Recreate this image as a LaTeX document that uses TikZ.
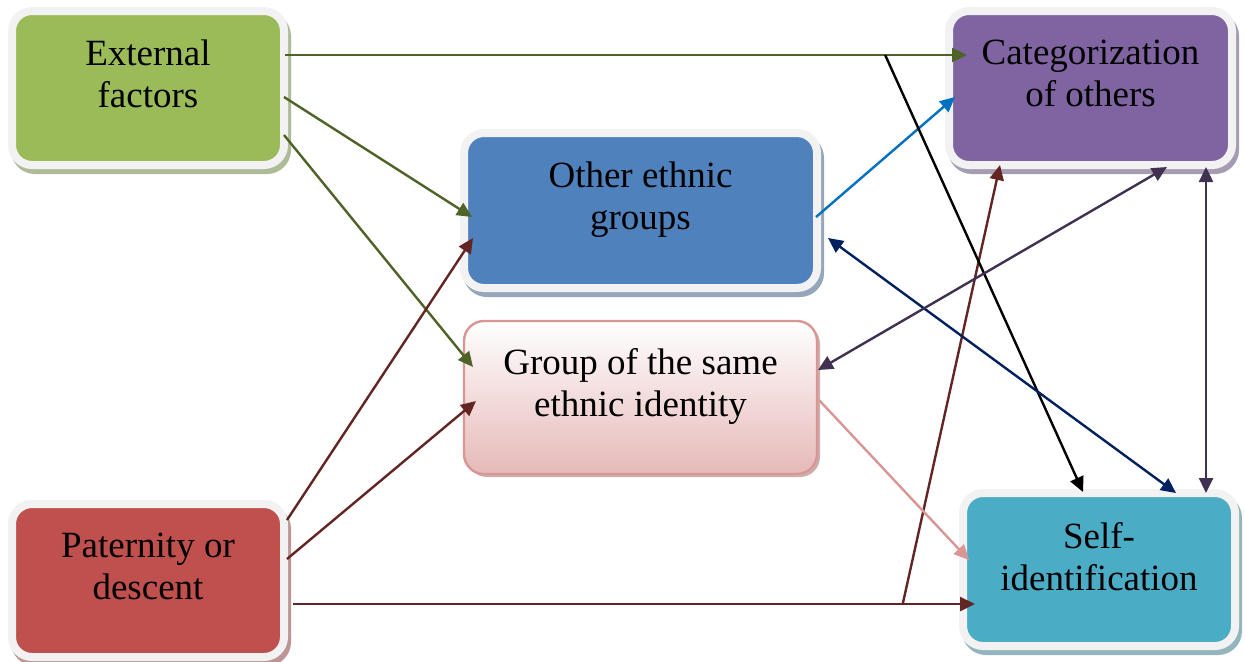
\documentclass[tikz,border=0pt]{standalone}
\usepackage{fontspec}
\setmainfont{Liberation Serif}
\usetikzlibrary{calc,shadows,arrows.meta}
\definecolor{myolive}{RGB}{79,98,40}
\definecolor{mymaroon}{RGB}{99,37,35}
\definecolor{myazure}{RGB}{0,112,192}
\definecolor{mynavy}{RGB}{0,32,96}
\definecolor{myplum}{RGB}{64,49,82}
\definecolor{myrose}{RGB}{217,150,148}
\definecolor{myrosefill}{RGB}{230,185,184}
\definecolor{mygreen}{RGB}{155,187,89}
\definecolor{myblue}{RGB}{79,129,189}
\definecolor{mypurple}{RGB}{128,100,162}
\definecolor{myred}{RGB}{192,80,77}
\definecolor{myteal}{RGB}{75,172,198}
\definecolor{myframe}{RGB}{242,242,242}
\tikzset{every picture/.style={line width=1.2pt}}
\tikzset{
  frm/.style={rounded corners=10pt, fill=#1, draw=myframe, line width=4pt, inner sep=0pt, outer sep=0pt,
    drop shadow={shadow xshift=1.5pt, shadow yshift=-2.5pt, opacity=1, line width=4pt, fill=#1!50!gray!70, draw=#1!50!gray!70}},
  lbl/.style={anchor=north, inner sep=0pt, align=center, font=\fontsize{18.5pt}{21pt}\selectfont},
  arr/.style={draw=#1, -{Triangle[length=7.5pt,width=7pt]}},
  darr/.style={draw=#1, {Triangle[length=7.5pt,width=7pt]}-{Triangle[length=7.5pt,width=7pt]}}
}

\begin{document}
\begin{tikzpicture}[x=0.5pt,y=0.5pt,yscale=-1]
\useasboundingbox (0,0) rectangle (1245,661);

%Rounded Rect
\node [frm=mygreen, minimum width=136pt, minimum height=77pt] (ext) at (148,88) {};
%Rounded Rect
\node [frm=myred, minimum width=136pt, minimum height=76.5pt] (pat) at (148,580.5) {};
%Rounded Rect
\node [frm=mypurple, minimum width=141.5pt, minimum height=77pt] (cat) at (1090.5,88) {};
%Rounded Rect
\node [frm=myteal, minimum width=136pt, minimum height=76.5pt] (self) at (1099,569.5) {};
%Rounded Rect
\node [frm=myblue, minimum width=176.5pt, minimum height=77.5pt] (oth) at (640.5,210.5) {};
%Rounded Rect
\node [rounded corners=10pt, draw=myrose, top color=white, bottom color=myrosefill, minimum width=176.5pt, minimum height=76.5pt, inner sep=0pt, outer sep=0pt, drop shadow={shadow xshift=1.5pt, shadow yshift=-1.5pt, opacity=1, fill=myrose!60!gray!70}] (grp) at (640.5,397.5) {};

% Text Node
\node [lbl] (extText) at ($(ext.north)+(0,28)$) {External\\factors};
% Text Node
\node [lbl] (patText) at ($(pat.north)+(0,28)$) {Paternity or\\descent};
% Text Node
\node [lbl] (catText) at ($(cat.north)+(0,28)$) {Categorization\\of others};
% Text Node
\node [lbl] (selfText) at ($(self.north)+(0,28)$) {Self-\\identification};
% Text Node
\node [lbl] (othText) at ($(oth.north)+(0,28)$) {Other ethnic\\groups};
% Text Node
\node [lbl] (grpText) at ($(grp.north)+(0,26)$) {Group of the same\\ethnic identity};

%Straight Lines
\draw [arr=myolive] ($(ext.east)+(1,-33)$) -- ($(cat.west)+(18,-33)$) coordinate[pos=0.88] (jtop);
\draw [arr=myolive] ($(ext.east)+(0,9)$) -- ($(oth.west)+(8,6.5)$);
\draw [arr=myolive] ($(ext.east)+(0,47)$) -- ($(grp.west)+(9,-30.5)$);
%Straight Lines
\draw [arr=mymaroon] ($(pat.east)+(3,-60.5)$) -- ($(oth.west)+(9,27.5)$);
\draw [arr=mymaroon] ($(pat.east)+(3,-21.5)$) -- ($(grp.west)+(12,3.5)$);
\draw [arr=mymaroon] ($(pat.east)+(9,23.5)$) -- ($(self.west)+(12,34.5)$) coordinate[pos=0.894] (jbot);
\draw [arr=mymaroon] (jbot) -- ($(cat.south)+(-90.5,0)$);
%Straight Lines
\draw [arr=myazure] ($(oth.east)+(-1,6.5)$) -- ($(cat.west)+(6,9)$);
\draw [arr=black] (jtop) -- ($(self.north)+(-16,-1)$);
\draw [darr=mynavy] ($(oth.east)+(11,27.5)$) -- ($(self.north)+(77,0)$);
\draw [darr=myplum] ($(cat.south)+(76.5,2)$) -- ($(grp.east)+(1,-27.5)$);
\draw [darr=myplum] ($(cat.south)+(115.5,2)$) coordinate (cr) -- (cr |- self.north);
\draw [arr=myrose] ($(grp.east)+(2,2.5)$) -- ($(self.west)+(6,-9.5)$);
\end{tikzpicture}
\end{document}
